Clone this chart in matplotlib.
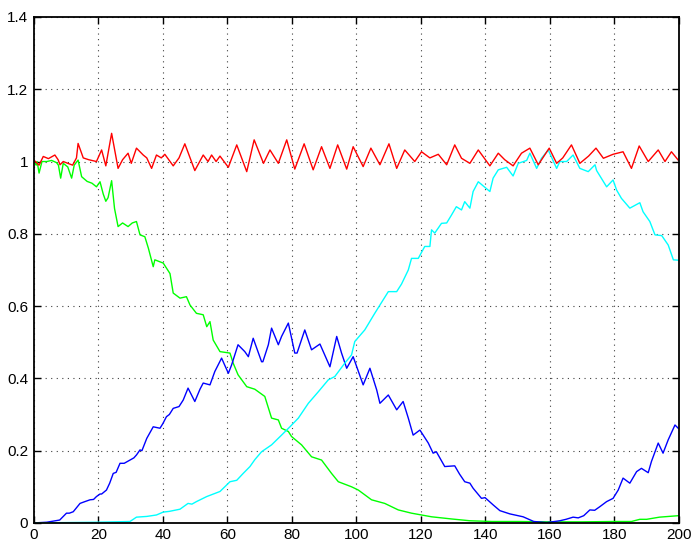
import numpy as np
import matplotlib
matplotlib.use("Agg")
import matplotlib.pyplot as plt
from matplotlib.ticker import FormatStrFormatter

plt.rcParams['font.family'] = ['Liberation Sans', 'DejaVu Sans']

# Population 1 (vert)
x_g = [0, 0.7, 1.0, 1.6, 2.5, 4, 5.5, 7, 7.6, 8.3, 9.1, 10.5, 11.7, 12.5, 13.7, 14.8, 16.5, 18, 19.4,
       20.5, 21.5, 22.3, 23, 24.1, 25, 26.1, 27.5, 29.2, 30.5, 31.8, 32.9, 34.4, 35.5, 37, 37.5, 40.1,
       42.2, 43.2, 45.3, 47.3, 48.4, 50.4, 52.5, 53.6, 54.6, 55.6, 57.7, 60.8, 61.8, 63.3, 66, 68.5,
       71.6, 73.7, 75.8, 76.8, 78.9, 79.9, 83, 86.1, 89.2, 92.3, 94.4, 98.5, 100.6, 104.7, 108.8, 113,
       117.1, 123.3, 129.5, 135.2, 142, 150, 160, 170, 180, 185.3, 187.9, 190, 194, 199.8]
y_g = [1.0, 0.99, 1.0, 0.968, 1.0, 1.0, 1.003, 0.997, 0.99, 0.954, 0.995, 0.985, 0.954, 0.99, 1.004,
       0.958, 0.945, 0.94, 0.93, 0.944, 0.91, 0.89, 0.9, 0.947, 0.87, 0.82, 0.83, 0.82, 0.83, 0.834,
       0.797, 0.792, 0.76, 0.709, 0.728, 0.719, 0.69, 0.636, 0.622, 0.626, 0.603, 0.58, 0.576, 0.543,
       0.557, 0.506, 0.474, 0.47, 0.442, 0.41, 0.377, 0.37, 0.35, 0.29, 0.285, 0.262, 0.253, 0.239,
       0.216, 0.183, 0.174, 0.137, 0.114, 0.1, 0.091, 0.064, 0.054, 0.036, 0.027, 0.017, 0.011, 0.006,
       0.004, 0.004, 0.003, 0.003, 0.004, 0.004, 0.01, 0.01, 0.016, 0.02]

# Population 2 (bleu)
x_b = [0, 4, 8, 10.1, 11, 12.2, 14.3, 15.5, 17.4, 18.5, 19.4, 20.5, 21, 22.5, 23.5, 24.6, 25.5, 26.7,
       28, 29.8, 31, 31.8, 32.9, 33.5, 35, 37, 39.1, 40, 41.1, 42, 43.2, 45, 46.3, 47.8, 49.9, 51.5,
       52.5, 54.6, 56.1, 58.2, 59.5, 60.3, 61.3, 63.3, 65.4, 66.5, 68, 70.6, 71, 72.7, 73.7, 75.8,
       76.8, 78.9, 80.9, 81.6, 84, 86.1, 88.7, 91.8, 93.9, 95.4, 97, 99, 102.1, 104.2, 106.3, 107.3,
       109.9, 112.5, 114.5, 116.1, 117.6, 119.7, 122.3, 123.8, 124.8, 127.4, 130.5, 132, 133.6, 135.2,
       136.2, 138.8, 139.9, 142.4, 144.5, 147.6, 151.7, 155, 159, 163.1, 165, 167.2, 168.8, 170.5,
       172.4, 173.9, 175.5, 177.6, 179.6, 181.2, 182.7, 184.8, 186.9, 188.4, 190.5, 191.5, 193.6,
       195.1, 196.7, 198.8, 199.8]
y_b = [0, 0.002, 0.008, 0.027, 0.027, 0.031, 0.054, 0.058, 0.064, 0.065, 0.073, 0.08, 0.08, 0.091,
       0.11, 0.137, 0.14, 0.165, 0.165, 0.174, 0.18, 0.188, 0.202, 0.2, 0.234, 0.266, 0.262, 0.275,
       0.294, 0.3, 0.317, 0.322, 0.34, 0.373, 0.336, 0.37, 0.387, 0.382, 0.419, 0.456, 0.43, 0.414,
       0.437, 0.493, 0.474, 0.46, 0.511, 0.446, 0.446, 0.493, 0.539, 0.493, 0.516, 0.553, 0.47, 0.47,
       0.534, 0.479, 0.495, 0.432, 0.516, 0.47, 0.428, 0.46, 0.382, 0.428, 0.368, 0.331, 0.354, 0.313,
       0.336, 0.29, 0.243, 0.257, 0.221, 0.193, 0.197, 0.156, 0.158, 0.135, 0.114, 0.11, 0.096, 0.068,
       0.07, 0.05, 0.034, 0.025, 0.017, 0.004, 0.001, 0.006, 0.01, 0.016, 0.014, 0.02, 0.036, 0.035,
       0.045, 0.059, 0.068, 0.091, 0.124, 0.11, 0.142, 0.151, 0.139, 0.17, 0.221, 0.193, 0.23, 0.271,
       0.262]

# Population 3 (cyan)
x_c = [0, 10, 20, 25, 29.8, 31.8, 35, 38, 40.1, 42, 45.3, 47.8, 49, 50.4, 53.6, 57.7, 60.8, 62.9,
       64.9, 67, 68.5, 70.6, 73.7, 76.8, 79.4, 82, 85.1, 88.2, 91.3, 93.3, 96.4, 98.5, 99.5, 102.6,
       105.7, 107.8, 109.9, 112.5, 114, 116.1, 117.1, 119.2, 121.2, 122.8, 123.3, 124.3, 126.4, 128,
       129.5, 131, 132.6, 133.6, 135.2, 136.2, 137.8, 141.4, 142.4, 144, 146.6, 148.6, 150.2, 152.8,
       153.8, 155.9, 157.4, 159.5, 162.1, 163.1, 165.2, 167.2, 169.3, 171.9, 174, 174.5, 177.6, 179.6,
       180.7, 182.2, 184.8, 187.9, 188.9, 191, 192.6, 194.7, 196.7, 198.3, 199.8]
y_c = [0, 0.001, 0.002, 0.003, 0.004, 0.016, 0.018, 0.022, 0.03, 0.032, 0.038, 0.054, 0.052, 0.059,
       0.073, 0.087, 0.114, 0.118, 0.137, 0.156, 0.175, 0.197, 0.216, 0.243, 0.266, 0.29, 0.331, 0.363,
       0.396, 0.405, 0.442, 0.465, 0.502, 0.534, 0.58, 0.61, 0.64, 0.64, 0.661, 0.7, 0.732, 0.732,
       0.765, 0.765, 0.811, 0.802, 0.829, 0.83, 0.852, 0.875, 0.866, 0.889, 0.871, 0.917, 0.944, 0.917,
       0.954, 0.977, 0.984, 0.96, 0.995, 1.003, 1.023, 0.981, 1.009, 1.032, 0.981, 1.0, 1.0, 1.018,
       0.981, 0.972, 0.991, 0.975, 0.93, 0.949, 0.921, 0.898, 0.871, 0.886, 0.861, 0.834, 0.797, 0.795,
       0.769, 0.728, 0.727]

# Somme (rouge)
x_r = [0, 1.6, 2.9, 4.5, 6.5, 7.5, 8.1, 9.1, 10.5, 12, 13.2, 13.7, 15.3, 17, 19.4, 21, 22.3, 24.1,
       26.1, 27.5, 29.2, 30.2, 31.8, 33.9, 35, 36.5, 38, 39.5, 40.6, 43.2, 45, 46.8, 49.9, 52.5, 54,
       55.1, 56.5, 57.7, 60.3, 62.9, 66, 68.3, 71.2, 73.2, 75.8, 78.4, 80.9, 83.8, 86.6, 89.2, 91.8,
       94.2, 97, 99, 102.1, 104.5, 107.3, 110.1, 112.5, 115, 118.1, 120.2, 122.8, 125.4, 128, 130.5,
       132.6, 135.2, 137.8, 141.4, 144, 146, 148.6, 151.2, 153.8, 156.4, 159.8, 162.1, 164, 166.7,
       169.3, 172, 174.3, 176.6, 179.6, 182.7, 185.3, 187.7, 190.5, 193.6, 195.7, 197.7, 199.8]
y_r = [1.004, 0.99, 1.014, 1.008, 1.018, 1.005, 0.991, 1.0, 0.995, 0.99, 1.01, 1.05, 1.01, 1.005,
       1.0, 1.032, 0.988, 1.078, 0.981, 1.005, 1.023, 0.995, 1.037, 1.018, 1.01, 0.981, 1.018, 1.01,
       1.02, 0.988, 1.01, 1.049, 0.975, 1.018, 1.0, 1.018, 1.0, 1.015, 0.984, 1.046, 0.972, 1.06,
       0.995, 1.032, 0.995, 1.06, 0.979, 1.049, 0.977, 1.041, 0.981, 1.046, 0.979, 1.041, 0.986,
       1.037, 0.991, 1.049, 0.981, 1.032, 1.0, 1.027, 1.01, 1.02, 0.991, 1.046, 1.009, 0.995, 1.032,
       0.988, 1.023, 1.005, 0.988, 1.023, 1.037, 0.991, 1.037, 0.995, 1.01, 1.046, 0.995, 1.015,
       1.037, 1.009, 1.02, 1.027, 0.981, 1.043, 1.0, 1.032, 1.0, 1.027, 1.004]

x_ticks = [0, 20, 40, 60, 80, 100, 120, 140, 160, 180, 200]
y_ticks = [0, 0.2, 0.4, 0.6, 0.8, 1.0, 1.2, 1.4]

fig = plt.figure(figsize=(6.92, 5.47), dpi=100)
ax = fig.add_axes([0.049, 0.044, 0.932, 0.925])

ax.plot(x_g, y_g, color=(0, 1, 0), lw=1.0)
ax.plot(x_b, y_b, color=(0, 0, 1), lw=1.0)
ax.plot(x_c, y_c, color=(0, 1, 1), lw=1.0)
ax.plot(x_r, y_r, color=(1, 0, 0), lw=1.0)

ax.set_xlim(0, 200)
ax.set_ylim(0, 1.4)
ax.set_xticks(x_ticks)
ax.set_yticks(y_ticks)
ax.yaxis.set_major_formatter(FormatStrFormatter('%g'))
ax.tick_params(direction='in', top=True, right=True, length=5, width=1, labelsize=11, pad=4)
ax.grid(True, color='0.25', linestyle=(0, (1, 4)), linewidth=0.8)
for s in ax.spines.values():
    s.set_linewidth(1.3)

fig.savefig("out.png", dpi=100)
